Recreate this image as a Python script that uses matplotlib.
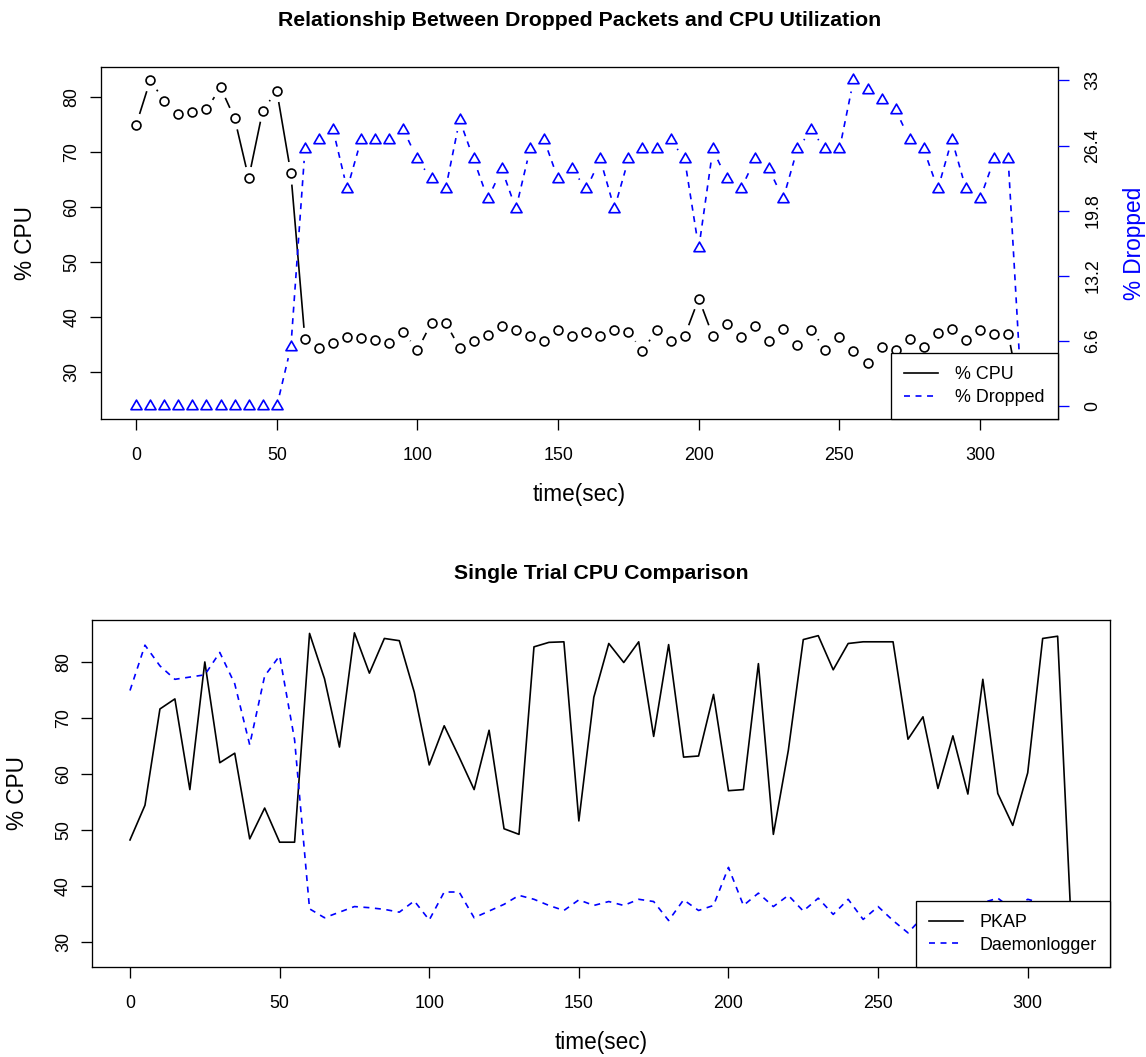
import numpy as np
import matplotlib
matplotlib.use("Agg")
import matplotlib.pyplot as plt
from matplotlib.path import Path
from matplotlib.collections import LineCollection
from matplotlib.lines import Line2D

# ---------------- data ----------------
time_sec = [0, 5, 10, 15, 20, 25, 30, 35, 40, 45, 50, 55, 60, 65, 70, 75,
            80, 85, 90, 95, 100, 105, 110, 115, 120, 125, 130, 135, 140, 145, 150, 155,
            160, 165, 170, 175, 180, 185, 190, 195, 200, 205, 210, 215, 220, 225, 230, 235,
            240, 245, 250, 255, 260, 265, 270, 275, 280, 285, 290, 295, 300, 305, 310, 315]

cpu_pct = [74.9, 83.0, 79.3, 76.9, 77.3, 77.7, 81.7, 76.1, 65.2, 77.5, 81.1, 66.1, 35.9, 34.3, 35.3, 36.3,
           36.1, 35.8, 35.3, 37.3, 33.9, 38.9, 38.9, 34.3, 35.5, 36.7, 38.3, 37.6, 36.5, 35.6, 37.5, 36.5,
           37.2, 36.5, 37.6, 37.2, 33.8, 37.5, 35.6, 36.5, 43.3, 36.5, 38.7, 36.3, 38.3, 35.5, 37.8, 34.9,
           37.6, 34.0, 36.3, 33.8, 31.6, 34.5, 34.0, 36.0, 34.5, 37.0, 37.8, 35.8, 37.6, 36.9, 36.9, 23.7]

dropped_pct = [0, 0, 0, 0, 0, 0, 0, 0, 0, 0, 0, 6, 26, 27, 28, 22,
               27, 27, 27, 28, 25, 23, 22, 29, 25, 21, 24, 20, 26, 27, 23, 24,
               22, 25, 20, 25, 26, 26, 27, 25, 16, 26, 23, 22, 25, 24, 21, 26,
               28, 26, 26, 33, 32, 31, 30, 27, 26, 22, 27, 22, 21, 25, 25, 0]

pkap_cpu = [48.2, 54.4, 71.6, 73.4, 57.2, 80.0, 62.0, 63.7, 48.4, 53.9, 47.8, 47.8, 85.1, 77.0, 64.8, 85.2,
            78.0, 84.2, 83.8, 74.6, 61.6, 68.6, 63.0, 57.2, 67.8, 50.2, 49.2, 82.7, 83.5, 83.6, 51.6, 73.7,
            83.3, 79.9, 83.6, 66.7, 83.1, 63.0, 63.2, 74.2, 57.0, 57.2, 79.7, 49.2, 64.2, 84.0, 84.7, 78.6,
            83.3, 83.6, 83.6, 83.6, 66.2, 70.2, 57.4, 66.8, 56.4, 76.9, 56.5, 50.8, 60.2, 84.2, 84.6, 27.8]

daemonlogger_cpu = cpu_pct

time_ticks = [0, 50, 100, 150, 200, 250, 300]
cpu_ticks = [30, 40, 50, 60, 70, 80]
dropped_ticks = [0, 6.6, 13.2, 19.8, 26.4, 33]
dropped_tick_labels = ["0", "6.6", "13.2", "19.8", "26.4", "33"]

# ---------------- style ----------------
plt.rcParams['font.family'] = ['Liberation Sans', 'DejaVu Sans']
plt.rcParams['lines.scale_dashes'] = False

TICK_FS = 12.9
LAB_FS = 16.3
TITLE_FS = 15.3
LEG_FS = 12.9
LW = 1.2
FRAME_LW = 0.95
DASH = (0, (4.3, 4.0))
GAP = 11.4  # px gap around points (R type="b")

W, H = 1146, 1057
fig = plt.figure(figsize=(W / 100, H / 100), dpi=100)


def rect(l, t, r, b):
    return [l / W, 1 - b / H, (r - l) / W, (b - t) / H]


def rlim(v):
    lo, hi = min(v), max(v)
    p = 0.04 * (hi - lo)
    return lo - p, hi + p


tri = Path([(0, 1), (-0.866, -0.5), (0.866, -0.5), (0, 1)],
           [Path.MOVETO, Path.LINETO, Path.LINETO, Path.CLOSEPOLY])


def b_segments(ax, x, y):
    pts = ax.transData.transform(np.column_stack([x, y]))
    inv = ax.transData.inverted()
    segs = []
    for p, q in zip(pts[:-1], pts[1:]):
        d = q - p
        L = np.hypot(d[0], d[1])
        if L > 2 * GAP:
            u = d / L
            segs.append(inv.transform(np.array([p + u * GAP, q - u * GAP])))
    return segs


def style_frame(ax):
    for s in ax.spines.values():
        s.set_linewidth(FRAME_LW)
        s.set_color('black')
    ax.tick_params(length=8.1, width=FRAME_LW, labelsize=TICK_FS)
    ax.tick_params(axis='x', pad=12)
    ax.tick_params(axis='y', pad=6.5, labelrotation=90)


# ================= top chart =================
ax1 = fig.add_axes(rect(100.7, 67.3, 1057.7, 419.3))
ax2 = ax1.twinx()
ax1.set_xlim(rlim(time_sec))
ax1.set_ylim(rlim(cpu_pct))
ax2.set_ylim(rlim(dropped_pct))

style_frame(ax1)
ax1.set_xticks(time_ticks)
ax1.set_yticks(cpu_ticks)
plt.setp(ax1.get_yticklabels(), va='center', ha='right')

for s in ax2.spines.values():
    s.set_visible(False)
ax2.set_yticks(dropped_ticks)
ax2.set_yticklabels(dropped_tick_labels)
ax2.tick_params(axis='y', length=8.1, width=FRAME_LW, colors='blue', labelcolor='black',
                labelsize=TICK_FS, pad=11.2, labelrotation=90)
plt.setp(ax2.get_yticklabels(), va='center', ha='left')

ax1.add_collection(LineCollection(b_segments(ax1, time_sec, cpu_pct), colors='black', linewidths=LW))
ax1.plot(time_sec, cpu_pct, ls='none', marker='o', ms=6.4, mfc='none', mec='black', mew=LW)
ax2.add_collection(LineCollection(b_segments(ax2, time_sec, dropped_pct), colors='blue',
                                  linewidths=LW, linestyles=[DASH]))
ax2.plot(time_sec, dropped_pct, ls='none', marker=tri, ms=9.2, mfc='none', mec='blue', mew=LW)

ax1.set_title('Relationship Between Dropped Packets and CPU Utilization', fontsize=TITLE_FS,
              fontweight='bold', y=1 + (67.3 - 26) / 352, pad=0, va='baseline')
ax1.set_xlabel('time(sec)', fontsize=LAB_FS)
ax1.xaxis.set_label_coords(0.5, -(494 - 419.3) / 352)
ax1.xaxis.label.set_va('center')
ax1.set_ylabel('% CPU', fontsize=LAB_FS)
ax1.yaxis.set_label_coords((25.5 - 100.7) / 957, 0.5)
ax1.yaxis.label.set_va('center')
ax2.set_ylabel('% Dropped', fontsize=LAB_FS, color='blue')
ax2.yaxis.set_label_coords((1134.2 - 100.7) / 957, 0.5)
ax2.yaxis.label.set_va('center')

h1 = [Line2D([], [], color='black', lw=LW), Line2D([], [], color='blue', lw=LW, ls=DASH)]
leg1 = ax2.legend(h1, ['% CPU', '% Dropped'], loc='lower right', bbox_to_anchor=(1, 0),
                  borderaxespad=0, fancybox=False, framealpha=1, edgecolor='black',
                  fontsize=LEG_FS, handlelength=1.9, handletextpad=0.92, borderpad=0.75,
                  labelspacing=0.31)
leg1.get_frame().set_linewidth(FRAME_LW)

# ================= bottom chart =================
ax3 = fig.add_axes(rect(92.3, 620, 1110.3, 967))
ax3.set_xlim(rlim(time_sec))
ax3.set_ylim(rlim(pkap_cpu))
style_frame(ax3)
ax3.set_xticks(time_ticks)
ax3.set_yticks(cpu_ticks)
plt.setp(ax3.get_yticklabels(), va='center', ha='right')

ax3.plot(time_sec, pkap_cpu, color='black', lw=LW)
ax3.plot(time_sec, daemonlogger_cpu, color='blue', lw=LW, ls=DASH)

ax3.set_title('Single Trial CPU Comparison', fontsize=TITLE_FS, fontweight='bold',
              y=1 + (620 - 579) / 347, pad=0, va='baseline')
ax3.set_xlabel('time(sec)', fontsize=LAB_FS)
ax3.xaxis.set_label_coords(0.5, -(1043 - 967) / 347)
ax3.xaxis.label.set_va('center')
ax3.set_ylabel('% CPU', fontsize=LAB_FS)
ax3.yaxis.set_label_coords((17.7 - 92.3) / 1018, 0.5)
ax3.yaxis.label.set_va('center')

h3 = [Line2D([], [], color='black', lw=LW), Line2D([], [], color='blue', lw=LW, ls=DASH)]
leg3 = ax3.legend(h3, ['PKAP', 'Daemonlogger'], loc='lower right', bbox_to_anchor=(1, 0),
                  borderaxespad=0, fancybox=False, framealpha=1, edgecolor='black',
                  fontsize=LEG_FS, handlelength=1.9, handletextpad=0.92, borderpad=0.75,
                  labelspacing=0.31)
leg3.get_frame().set_linewidth(FRAME_LW)

fig.savefig('out.png', dpi=100)
